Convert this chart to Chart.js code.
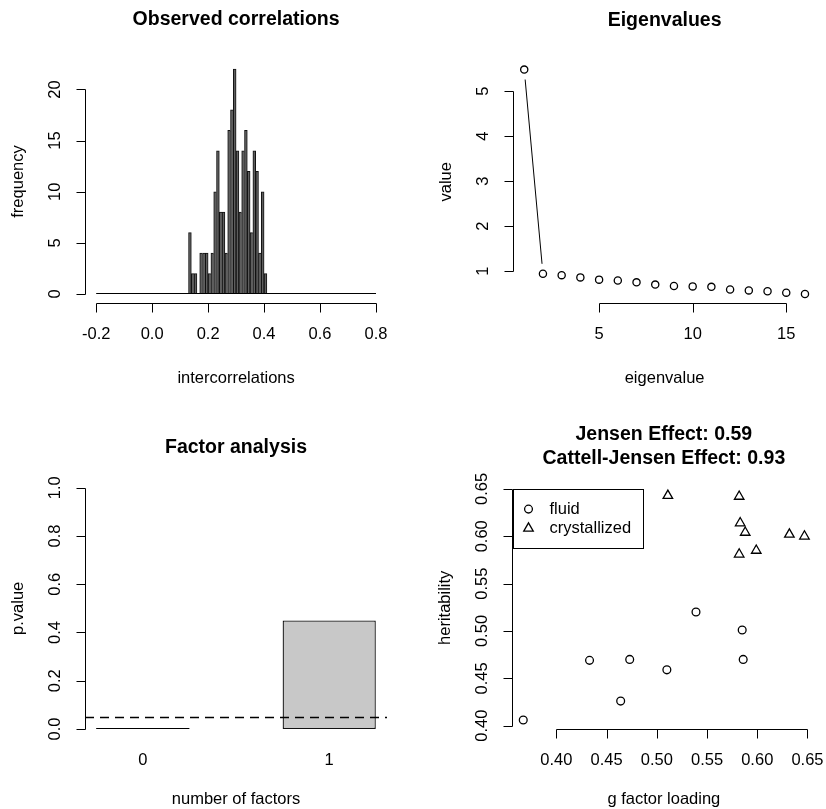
<!DOCTYPE html>
<html>
<head>
<meta charset="utf-8">
<script src="https://cdn.jsdelivr.net/npm/chart.js@4.4.1/dist/chart.umd.min.js"></script>
<style>
  body { margin: 0; background: #fff; }
  #wrap { position: relative; width: 826px; height: 809px; }
  canvas { position: absolute; }
</style>
</head>
<body>
<div id="wrap">
  <canvas id="hist" width="413" height="405" style="left:0;top:0"></canvas>
  <canvas id="eigen" width="413" height="405" style="left:413px;top:0"></canvas>
  <canvas id="factor" width="413" height="404" style="left:0;top:405px"></canvas>
  <canvas id="jensen" width="413" height="404" style="left:413px;top:405px"></canvas>
</div>
<script>
// observed correlations (histogram, bins of 0.01 starting at 0.13)
const histFrom = 0.13;
const histBin = 0.01;
const histCounts = [6, 2, 2, 0, 4, 4, 4, 2, 4, 10, 14, 8, 8, 4, 16, 18, 22, 14, 8, 14, 16, 12, 6, 14, 12, 4, 10, 2];
const histRange = [-0.2, 0.8];
const histXTicks = [-0.2, 0.0, 0.2, 0.4, 0.6, 0.8];
const histYTicks = [0, 5, 10, 15, 20];

// eigenvalues
const eigenValues = [5.48, 0.94, 0.91, 0.86, 0.81, 0.79, 0.75, 0.70, 0.67, 0.66, 0.65, 0.59, 0.57, 0.55, 0.52, 0.49];
const eigenXTicks = [5, 10, 15];
const eigenYTicks = [1, 2, 3, 4, 5];

// factor analysis
const nFactors = [0, 1];
const pValues = [0.0, 0.45];
const alpha = 0.05;
const pYTicks = [0, 0.2, 0.4, 0.6, 0.8, 1.0];

// jensen effect
const fluidLoading = [0.367, 0.433, 0.464, 0.473, 0.510, 0.539, 0.585, 0.586];
const fluidHerit   = [0.406, 0.469, 0.426, 0.470, 0.459, 0.520, 0.501, 0.470];
const crystLoading = [0.511, 0.582, 0.583, 0.588, 0.582, 0.599, 0.632, 0.647];
const crystHerit   = [0.643, 0.642, 0.614, 0.604, 0.581, 0.585, 0.602, 0.600];
const jensenTicks = [0.40, 0.45, 0.50, 0.55, 0.60, 0.65];
const jensenTitle = ['Jensen Effect: 0.59', 'Cattell-Jensen Effect: 0.93'];

const FONT = '"Liberation Sans", Arial, Helvetica, sans-serif';

// R style range: data range padded by 4% on each side
function rRange(vals) {
  const lo = Math.min(...vals), hi = Math.max(...vals);
  const d = (hi - lo) * 0.04;
  return [lo - d, hi + d];
}
function px(v) { return Math.round(v) + 0.5; }

// draws axes, titles etc the way base R graphics does
const rBase = {
  id: 'rBase',
  afterDatasetsDraw(chart, args, o) {
    const ctx = chart.ctx, a = chart.chartArea;
    const xs = chart.scales.x, ys = chart.scales.y;
    ctx.save();
    ctx.strokeStyle = '#000';
    ctx.fillStyle = '#000';
    ctx.lineWidth = 1;
    const seg = (x1, y1, x2, y2) => { ctx.beginPath(); ctx.moveTo(x1, y1); ctx.lineTo(x2, y2); ctx.stroke(); };

    // empty bars are drawn as a flat line
    chart.data.datasets.forEach((ds, i) => {
      const meta = chart.getDatasetMeta(i);
      if (meta.type !== 'bar') return;
      meta.data.forEach(el => {
        if (Math.abs(el.base - el.y) < 0.5) seg(el.x - el.width / 2, px(el.y) - 1, el.x + el.width / 2, px(el.y) - 1);
      });
    });

    if (o.baseline) {
      const y = px(ys.getPixelForValue(0)) - 1;
      seg(xs.getPixelForValue(o.baseline[0]), y, xs.getPixelForValue(o.baseline[1]), y);
    }

    // type = "b": lines with a gap round each point
    if (o.typeB) {
      const pts = chart.getDatasetMeta(0).data;
      const gap = 10;
      for (let i = 1; i < pts.length; i++) {
        const p0 = pts[i - 1], p1 = pts[i];
        const dx = p1.x - p0.x, dy = p1.y - p0.y, d = Math.hypot(dx, dy);
        if (d <= 2 * gap) continue;
        seg(p0.x + dx / d * gap, p0.y + dy / d * gap, p1.x - dx / d * gap, p1.y - dy / d * gap);
      }
    }

    if (o.hline !== undefined) {
      const y = px(ys.getPixelForValue(o.hline));
      ctx.setLineDash([9, 6]);
      ctx.lineWidth = 1.3;
      seg(a.left, y, a.right, y);
      ctx.setLineDash([]);
      ctx.lineWidth = 1;
    }

    ctx.font = '16.5px ' + FONT;
    ctx.textAlign = 'center';
    ctx.textBaseline = 'middle';

    if (o.yTicks) {
      const x = px(a.left);
      const ps = o.yTicks.map(v => ys.getPixelForValue(v));
      seg(x, px(ps[0]), x, px(ps[ps.length - 1]));
      ps.forEach((y, i) => {
        seg(x - 9, px(y), x, px(y));
        ctx.save();
        ctx.translate(a.left - 30, y);
        ctx.rotate(-Math.PI / 2);
        ctx.fillText(o.yFmt(o.yTicks[i]), 0, 0);
        ctx.restore();
      });
    }
    if (o.xTicks) {
      const y = px(a.bottom);
      const ps = o.xTicks.map(v => xs.getPixelForValue(v));
      seg(px(ps[0]), y, px(ps[ps.length - 1]), y);
      ps.forEach((x, i) => {
        seg(px(x), y, px(x), y + 9);
        ctx.fillText(o.xFmt(o.xTicks[i]), x, a.bottom + 31);
      });
    }
    if (o.names) {
      const meta = chart.getDatasetMeta(0);
      meta.data.forEach((el, i) => ctx.fillText(o.names[i], el.x, a.bottom + 31));
    }
    if (o.xTitle) ctx.fillText(o.xTitle, (a.left + a.right) / 2, a.bottom + o.xTitleGap);
    if (o.yTitle) {
      ctx.save();
      ctx.translate(a.left - 67, (a.top + a.bottom) / 2);
      ctx.rotate(-Math.PI / 2);
      ctx.fillText(o.yTitle, 0, 0);
      ctx.restore();
    }

    if (o.legend) {
      const items = o.legend;
      const tw = Math.max(...items.map(it => ctx.measureText(it.label).width));
      const bx = a.left + 0.5, by = a.top + 2.5;
      const bw = 38 + tw + 10, bh = 59;
      ctx.strokeRect(Math.round(bx) + 0.5, Math.round(by) + 0.5, Math.round(bw), Math.round(bh));
      ctx.textAlign = 'left';
      ctx.lineWidth = 1.3;
      items.forEach((it, i) => {
        const cy = by + 20 + i * 19.3;
        const cx = bx + 16;
        ctx.beginPath();
        if (it.style === 'triangle') {
          const r = it.radius;
          ctx.moveTo(cx, cy - r);
          ctx.lineTo(cx + Math.sin(2 * Math.PI / 3) * r, cy + r / 2);
          ctx.lineTo(cx - Math.sin(2 * Math.PI / 3) * r, cy + r / 2);
          ctx.closePath();
        } else {
          ctx.arc(cx, cy, it.radius, 0, 2 * Math.PI);
        }
        ctx.stroke();
        ctx.fillText(it.label, bx + 37, cy);
      });
      ctx.textAlign = 'center';
    }

    ctx.font = 'bold 19.5px ' + FONT;
    const n = o.title.length;
    o.title.forEach((t, i) => {
      ctx.fillText(t, (a.left + a.right) / 2, a.top - 40 + (i - (n - 1) / 2) * 23.3);
    });
    ctx.restore();
  }
};

function baseOptions(pad, xr, yr, extra) {
  return {
    responsive: false,
    animation: false,
    events: [],
    layout: { padding: pad },
    scales: {
      // no hidden ticks, so bar widths come from the data spacing only
      x: { type: 'linear', min: xr[0], max: xr[1], display: false, offset: false, afterBuildTicks: s => { s.ticks = []; } },
      y: { type: 'linear', min: yr[0], max: yr[1], display: false }
    },
    plugins: { legend: { display: false }, tooltip: { enabled: false }, rBase: extra }
  };
}

// 1. histogram
new Chart(document.getElementById('hist'), {
  type: 'bar',
  data: {
    datasets: [{
      data: histCounts.map((c, i) => ({ x: histFrom + (i + 0.5) * histBin, y: c })),
      backgroundColor: '#5e5e5e',
      borderColor: '#111',
      borderWidth: ctx => {
        const cur = histCounts[ctx.dataIndex];
        const next = histCounts[ctx.dataIndex + 1] || 0;
        return { top: 1, left: 1, right: next < cur ? 1 : 0, bottom: 0 };
      },
      barPercentage: 1,
      categoryPercentage: 1
    }]
  },
  options: baseOptions({ left: 85, right: 25.8, top: 60, bottom: 102 }, rRange(histRange), rRange([0, Math.max(...histCounts)]), {
    title: ['Observed correlations'],
    baseline: histRange,
    xTicks: histXTicks, xFmt: v => v.toFixed(1),
    yTicks: histYTicks, yFmt: v => String(v),
    xTitle: 'intercorrelations', xTitleGap: 75, yTitle: 'frequency'
  }),
  plugins: [rBase]
});

// 2. eigenvalues
new Chart(document.getElementById('eigen'), {
  type: 'line',
  data: {
    datasets: [{
      data: eigenValues.map((v, i) => ({ x: i + 1, y: v })),
      showLine: false,
      pointStyle: 'circle',
      pointRadius: 3.6,
      pointBorderWidth: 1.3,
      pointBorderColor: '#000',
      pointBackgroundColor: 'rgba(0,0,0,0)'
    }]
  },
  options: baseOptions({ left: 100, right: 9.8, top: 60.6, bottom: 102 }, rRange([1, eigenValues.length]), rRange(eigenValues), {
    title: ['Eigenvalues'],
    typeB: true,
    xTicks: eigenXTicks, xFmt: v => String(v),
    yTicks: eigenYTicks, yFmt: v => String(v),
    xTitle: 'eigenvalue', xTitleGap: 75, yTitle: 'value'
  }),
  plugins: [rBase]
});

// 3. factor analysis (barplot, width 1, space 1)
const barX = nFactors.map((f, i) => 1.5 + 2 * i);
new Chart(document.getElementById('factor'), {
  type: 'bar',
  data: {
    datasets: [{
      data: pValues.map((p, i) => ({ x: barX[i], y: p })),
      backgroundColor: '#c8c8c8',
      borderColor: '#111',
      borderWidth: 1.3,
      borderSkipped: false,
      barPercentage: 0.5,
      categoryPercentage: 1
    }]
  },
  options: baseOptions({ left: 85, right: 26, top: 82.7, bottom: 80 }, rRange([1, 2 * nFactors.length]), [0, 1], {
    title: ['Factor analysis'],
    hline: alpha,
    names: nFactors.map(String),
    yTicks: pYTicks, yFmt: v => v.toFixed(1),
    xTitle: 'number of factors', xTitleGap: 70, yTitle: 'p.value'
  }),
  plugins: [rBase]
});

// 4. jensen effect scatter
new Chart(document.getElementById('jensen'), {
  type: 'scatter',
  data: {
    datasets: [{
      label: 'fluid',
      data: fluidLoading.map((x, i) => ({ x: x, y: fluidHerit[i] })),
      pointStyle: 'circle',
      pointRadius: 3.9,
      pointBorderWidth: 1.3,
      pointBorderColor: '#000',
      pointBackgroundColor: 'rgba(0,0,0,0)'
    }, {
      label: 'crystallized',
      data: crystLoading.map((x, i) => ({ x: x, y: crystHerit[i] })),
      pointStyle: 'triangle',
      pointRadius: 5.5,
      pointBorderWidth: 1.3,
      pointBorderColor: '#000',
      pointBackgroundColor: 'rgba(0,0,0,0)'
    }]
  },
  options: baseOptions({ left: 99, right: 10.3, top: 81.6, bottom: 80 },
    rRange(fluidLoading.concat(crystLoading)), rRange(fluidHerit.concat(crystHerit)), {
    title: jensenTitle,
    xTicks: jensenTicks, xFmt: v => v.toFixed(2),
    yTicks: jensenTicks, yFmt: v => v.toFixed(2),
    xTitle: 'g factor loading', xTitleGap: 70, yTitle: 'heritability',
    legend: [{ label: 'fluid', style: 'circle', radius: 3.9 }, { label: 'crystallized', style: 'triangle', radius: 5.5 }]
  }),
  plugins: [rBase]
});
</script>
</body>
</html>
